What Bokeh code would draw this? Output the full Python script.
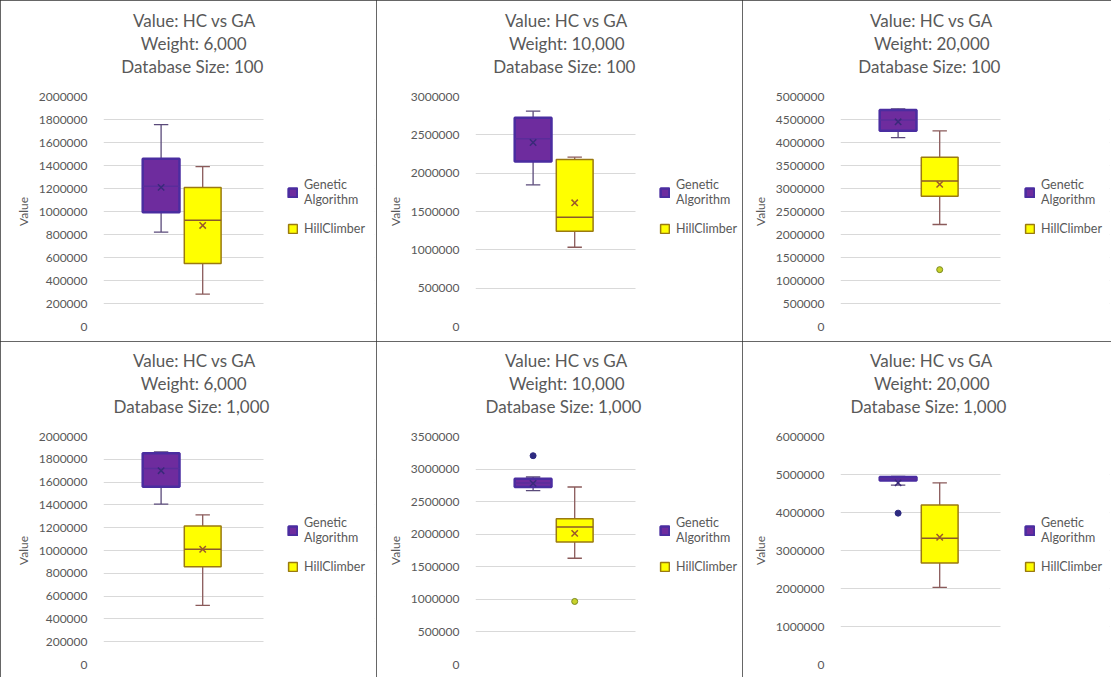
from bokeh.plotting import figure
from bokeh.layouts import column, row
from bokeh.models import (Range1d, FixedTicker, NumeralTickFormatter, Legend, LegendItem, Title,
                          BoxAnnotation)
from bokeh.embed import file_html
from bokeh.resources import INLINE

# ---------------- data ----------------
chart_title = "Value: HC vs GA"
weights = ["6,000", "10,000", "20,000", "6,000", "10,000", "20,000"]
db_sizes = ["100", "100", "100", "1,000", "1,000", "1,000"]
y_max = [2000000, 3000000, 5000000, 2000000, 3500000, 6000000]
y_step = [200000, 500000, 500000, 200000, 500000, 1000000]
series_names = ["Genetic\nAlgorithm", "HillClimber"]

ga_low = [821000, 1848000, 4106000, 1407000, 2670000, 4722000]
ga_q1 = [993000, 2152000, 4258000, 1559000, 2725000, 4845000]
ga_median = [1220000, 2450000, 4490000, 1720000, 2786000, 4890000]
ga_q3 = [1458000, 2722000, 4709000, 1853000, 2853000, 4931000]
ga_high = [1755000, 2808000, 4731000, 1865000, 2878000, 4950000]
ga_mean = [1210000, 2400000, 4450000, 1700000, 2780000, 4780000]
ga_outliers = [[], [], [], [], [3205000], [3983000]]

hc_low = [282000, 1034000, 2217000, 519000, 1631000, 2027000]
hc_q1 = [548000, 1243000, 2834000, 858000, 1880000, 2669000]
hc_median = [923000, 1426000, 3161000, 1011000, 2109000, 3322000]
hc_q3 = [1208000, 2178000, 3678000, 1214000, 2236000, 4200000]
hc_high = [1391000, 2208000, 4251000, 1313000, 2725000, 4782000]
hc_mean = [879000, 1613000, 3089000, 1011000, 2013000, 3348000]
hc_outliers = [[], [], [1236000], [], [968000], []]

# ---------------- layout / styling ----------------
FONT = "Lato"
TEXT = "#595959"
GRID = "#d9d9d9"
STYLES = [
    dict(fill="#6e2c9e", line="#4a2da0", line_width=2.5, whisker="#5a4a7a",
         median="#5a2c9a", mean="#3a2a7a", out_fill="#2e2a80", out_line="#2e2a80"),
    dict(fill="#ffff00", line="#9a7a10", line_width=1.5, whisker="#8a5a5a",
         median="#8a5a2a", mean="#9c5a2a", out_fill="#c8d22a", out_line="#7a8a20"),
]
X_POS = [0.36, 0.62]
BOX_W = 0.23
CAP_W = 0.045
PLOT_W = 160          # pixel width of the gridded plot area (data range 0..1)
TITLE_CENTER = 91     # title centre, in pixels from the plot area's left edge

COL_W = [376, 366, 369]
COL_LEFT = [103, 99, 98]
ROW_H = [341, 336]
ROW_TOP = [96, 95]
ROW_BOTTOM = [15, 13]
RIGHT_PAD = 2


def text_width(t):
    # approximate rendered width of a 17px Lato line
    return 7.8 * len(t) + 6


def make_panel(i):
    r_i, c_i = divmod(i, 3)
    frame_w = COL_W[c_i] - COL_LEFT[c_i] - RIGHT_PAD
    x_end = frame_w / PLOT_W
    p = figure(width=COL_W[c_i], height=ROW_H[r_i], output_backend="svg", toolbar_location=None,
               x_range=Range1d(0, x_end), y_range=Range1d(0, y_max[i]), title=None,
               x_axis_type=None, min_border_left=COL_LEFT[c_i], min_border_right=RIGHT_PAD,
               min_border_top=ROW_TOP[r_i], min_border_bottom=ROW_BOTTOM[r_i])
    p.styles = {"outline": "1px solid #333", "outline-offset": "-1px"}
    p.outline_line_color = None
    p.background_fill_color = "white"
    p.border_fill_color = "white"

    # spacer between the title block and the plot area
    p.add_layout(Title(text=" ", text_font_size="1px", standoff=17), "above")
    lines = [chart_title, f"Weight: {weights[i]}", f"Database Size: {db_sizes[i]}"]
    for t in reversed(lines):
        p.add_layout(Title(text=t, align="left", offset=TITLE_CENTER - text_width(t) / 2,
                           text_font=FONT, text_font_size="17px", text_font_style="normal",
                           text_color=TEXT, standoff=0), "above")

    ticks = list(range(0, y_max[i] + 1, y_step[i]))
    ax = p.yaxis[0]
    ax.ticker = FixedTicker(ticks=ticks)
    ax.formatter = NumeralTickFormatter(format="0")
    ax.axis_line_color = None
    ax.major_tick_line_color = None
    ax.minor_tick_line_color = None
    ax.major_label_text_font = FONT
    ax.major_label_text_font_size = "12px"
    ax.major_label_text_color = TEXT
    ax.major_label_standoff = 10
    ax.axis_label = "Value"
    ax.axis_label_text_font = FONT
    ax.axis_label_text_font_size = "12px"
    ax.axis_label_text_font_style = "normal"
    ax.axis_label_text_color = TEXT
    ax.axis_label_standoff = 5
    p.ygrid.grid_line_color = GRID
    p.xgrid.grid_line_color = None

    stats = [
        (ga_low[i], ga_q1[i], ga_median[i], ga_q3[i], ga_high[i], ga_mean[i], ga_outliers[i]),
        (hc_low[i], hc_q1[i], hc_median[i], hc_q3[i], hc_high[i], hc_mean[i], hc_outliers[i]),
    ]
    boxes = []
    for s, (lo, q1, med, q3, hi, mean, outs) in enumerate(stats):
        st = STYLES[s]
        x = X_POS[s]
        p.segment(x0=[x, x], y0=[q3, q1], x1=[x, x], y1=[hi, lo],
                  line_color=st["whisker"], line_width=1.3)
        p.segment(x0=[x - CAP_W, x - CAP_W], y0=[hi, lo], x1=[x + CAP_W, x + CAP_W], y1=[hi, lo],
                  line_color=st["whisker"], line_width=1.3)
        r = p.vbar(x=[x], width=BOX_W, top=[q3], bottom=[q1],
                   fill_color=st["fill"], line_color=st["line"], line_width=st["line_width"])
        boxes.append(r)
        p.segment(x0=[x - BOX_W / 2], y0=[med], x1=[x + BOX_W / 2], y1=[med],
                  line_color=st["median"], line_width=1.5)
        p.scatter(x=[x], y=[mean], marker="x", size=9, line_color=st["mean"], line_width=1.5)
        if outs:
            p.scatter(x=[x] * len(outs), y=outs, marker="circle", size=6,
                      fill_color=st["out_fill"], line_color=st["out_line"])

    # white area right of the gridded plot area, where the legend sits
    p.add_layout(BoxAnnotation(left=1.0, fill_color="white", fill_alpha=1.0,
                               line_color=None))

    legend = Legend(items=[LegendItem(label=series_names[0], renderers=[boxes[0]]),
                           LegendItem(label=series_names[1], renderers=[boxes[1]])],
                    location=(PLOT_W + 24, 90))
    legend.border_line_color = None
    legend.background_fill_alpha = 0
    legend.label_text_font = FONT
    legend.label_text_font_size = "12.5px"
    legend.label_text_color = TEXT
    legend.glyph_width = 11
    legend.glyph_height = 11
    legend.label_standoff = 6
    legend.spacing = 14
    legend.padding = 0
    legend.margin = 0
    p.add_layout(legend)
    return p


panels = [make_panel(i) for i in range(6)]
layout = column(row(*panels[:3]), row(*panels[3:]))

open("out.html", "w").write(file_html(layout, INLINE))
